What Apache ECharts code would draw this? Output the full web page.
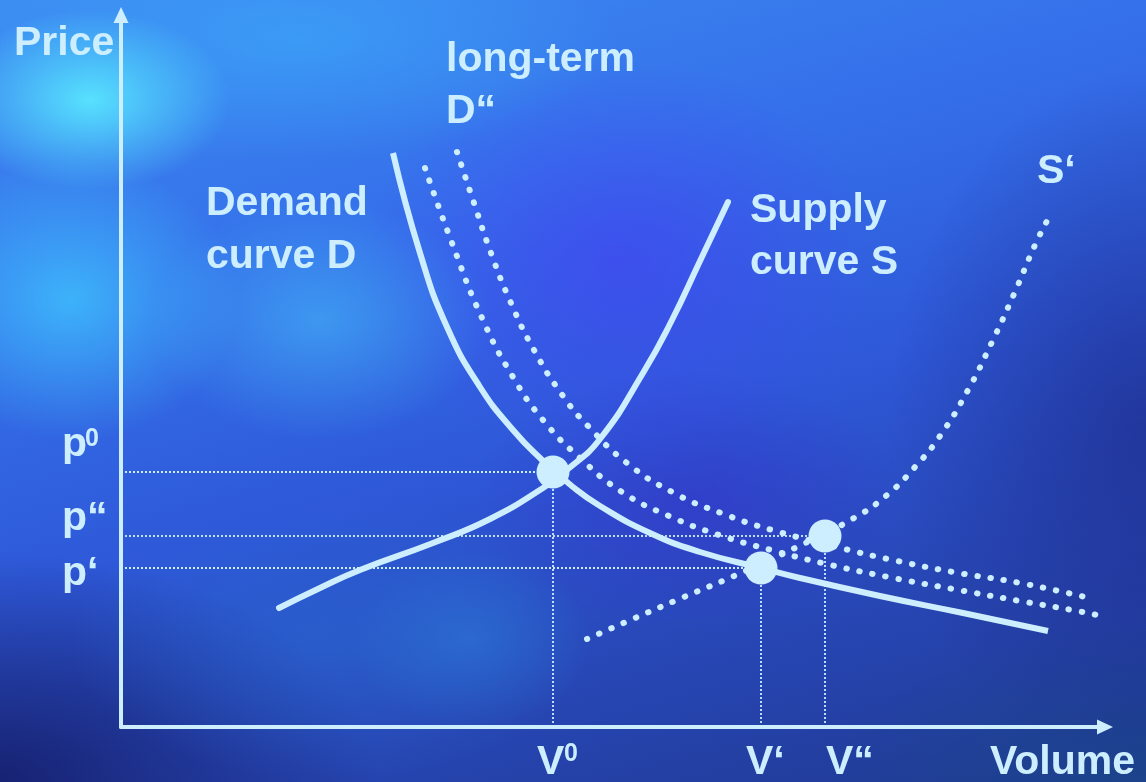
<!DOCTYPE html>
<html>
<head>
<meta charset="utf-8">
<script src="https://cdn.jsdelivr.net/npm/echarts@6/dist/echarts.min.js"></script>
<style>
  html, body { margin: 0; padding: 0; }
  #chart {
    width: 1146px; height: 782px;
    background:
      radial-gradient(ellipse 140px 90px at 90px 100px, rgba(88,230,255,0.95), rgba(88,230,255,0) 100%),
      radial-gradient(ellipse 170px 140px at 70px 300px, rgba(64,200,255,0.75), rgba(64,200,255,0) 100%),
      radial-gradient(ellipse 170px 120px at 320px 320px, rgba(70,190,250,0.55), rgba(70,190,250,0) 100%),
      radial-gradient(ellipse 320px 120px at 300px 40px, rgba(60,170,250,0.6), rgba(60,170,250,0) 100%),
      radial-gradient(ellipse 120px 90px at 470px 640px, rgba(45,130,220,0.45), rgba(45,130,220,0) 100%),
      radial-gradient(ellipse 260px 200px at 620px 260px, rgba(70,60,245,0.55), rgba(70,60,245,0) 100%),
      radial-gradient(ellipse 220px 130px at 690px 500px, rgba(55,45,200,0.5), rgba(55,45,200,0) 100%),
      radial-gradient(ellipse 260px 140px at 330px 640px, rgba(40,110,210,0.45), rgba(40,110,210,0) 100%),
      radial-gradient(ellipse 380px 230px at 0px 782px, rgba(22,32,110,0.95), rgba(22,32,110,0) 100%),
      radial-gradient(ellipse 260px 360px at 1146px 430px, rgba(30,45,140,0.7), rgba(30,45,140,0) 100%),
      radial-gradient(ellipse 320px 160px at 1146px 782px, rgba(25,75,135,0.6), rgba(25,75,135,0) 100%),
      linear-gradient(165deg, #3d8ef2 0%, #3570ea 30%, #2e58d8 55%, #2848b8 75%, #1f3890 100%);
  }
</style>
</head>
<body>
<div id="chart"></div>
<script>
// Curves as [volume, price] pairs
const demandD = [[272,574],[299,474],[326,400],[359,340],[392,297],[419,269],[452,240],[479,221],[529,194],[579,175],[640,159],[679,149],[759,131],[842,114],[927,96]];
const supplyS = [[158,119],[199,139],[239,157],[312,184],[369,208],[422,239],[447,258],[479,288],[522,354],[551,407],[579,466],[607,525]];
const demandShifted = [[304,559],[331,484],[361,409],[392,350],[422,307],[459,269],[501,235],[548,211],[598,192],[650,177],[701,164],[767,150],[832,138],[899,126],[951,117],[976,112]];
const demandLongTerm = [[336,575],[353,524],[370,474],[390,424],[413,377],[442,331],[467,301],[506,264],[551,235],[600,214],[651,197],[728,177],[767,168],[832,155],[899,144],[964,130]];
const supplyShifted = [[466,88],[514,109],[563,130],[613,151],[674,179],[733,209],[766,232],[794,260],[819,291],[847,337],[871,385],[893,433],[914,482],[926,506]];

// Equilibria: volume and price at each intersection
const equilibriumVolumes = [432, 640, 704];
const equilibriumPrices = [255, 159, 191];
// Axis marks: base letter plus its superscript / prime sign
const volumeLabels = [['V', '0'], ['V\u2018', ''], ['V\u201C', '']];
const priceLabels = [['p', '0'], ['p\u2018', ''], ['p\u201C', '']];

const ink = '#cdeeff';
const family = '"Liberation Sans", Arial, sans-serif';
const font = 'bold 41px ' + family;
const supFont = 'bold 25px ' + family;

const chart = echarts.init(document.getElementById('chart'), null, { renderer: 'canvas' });

const solid = { color: ink, width: 6, type: 'solid' };
const dotted = { color: ink, width: 6, type: [0.5, 12.8], cap: 'round' };

function curve(name, data, style, cap) {
  return {
    name, type: 'line', data, showSymbol: false, smooth: 0.5,
    silent: true, lineStyle: Object.assign({}, style, cap ? { cap } : {}), z: 3
  };
}

const guides = [];
equilibriumVolumes.forEach((v, i) => {
  const p = equilibriumPrices[i];
  guides.push([{ coord: [0, p] }, { coord: [v, p] }]);
  guides.push([{ coord: [v, 0] }, { coord: [v, p] }]);
});

function txt(text, x, y) {
  return { type: 'text', x, y, silent: true, z: 10,
    style: { text, font, fill: ink, align: 'left', verticalAlign: 'middle' } };
}
function sup(text, x, yTop) {
  return { type: 'text', x, y: yTop, silent: true, z: 10,
    style: { text, font: supFont, fill: ink, align: 'left', verticalAlign: 'top' } };
}

const option = {
  animation: false,
  grid: { left: 121, top: 15, right: 41, bottom: 55, outerBoundsMode: 'none' },
  xAxis: {
    type: 'value', min: 0, max: 984,
    axisLine: { show: true, symbol: ['none', 'triangle'], symbolSize: [15, 16], lineStyle: { color: ink, width: 4 } },
    axisTick: { show: false }, axisLabel: { show: false }, splitLine: { show: false }
  },
  yAxis: {
    type: 'value', min: 0, max: 712,
    axisLine: { show: true, symbol: ['none', 'triangle'], symbolSize: [15, 16], lineStyle: { color: ink, width: 4 } },
    axisTick: { show: false }, axisLabel: { show: false }, splitLine: { show: false }
  },
  series: [
    curve('Demand curve D', demandD, solid, 'butt'),
    curve('Supply curve S', supplyS, solid, 'round'),
    curve('D\u2018', demandShifted, dotted),
    curve('long-term D\u201C', demandLongTerm, dotted),
    curve('S\u2018', supplyShifted, dotted),
    {
      name: 'Equilibria', type: 'scatter', silent: true, z: 5,
      data: equilibriumVolumes.map((v, i) => [v, equilibriumPrices[i]]),
      symbolSize: 33, itemStyle: { color: ink, opacity: 1 },
      markLine: {
        silent: true, symbol: 'none', label: { show: false },
        lineStyle: { color: ink, width: 1.8, type: [2, 2], opacity: 1 },
        data: guides
      }
    }
  ],
  graphic: [
    txt('Price', 14, 44),
    txt('long-term', 446, 60),
    txt('D\u201C', 446, 112),
    txt('Demand', 206, 204),
    txt('curve D', 206, 257),
    txt('Supply', 750, 211),
    txt('curve S', 750, 263),
    txt('S\u2018', 1037, 172),
    txt(priceLabels[0][0], 62, 445),
    sup(priceLabels[0][1], 85, 427),
    txt(priceLabels[2][0], 62, 519),
    txt(priceLabels[1][0], 62, 574),
    txt(volumeLabels[0][0], 537, 763),
    sup(volumeLabels[0][1], 564, 742),
    txt(volumeLabels[1][0], 746, 763),
    txt(volumeLabels[2][0], 826, 763),
    txt('Volume', 990, 763)
  ]
};

chart.setOption(option);
</script>
</body>
</html>
